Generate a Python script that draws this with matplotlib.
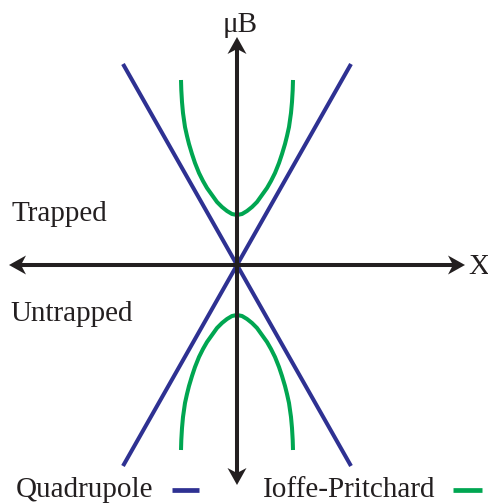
import numpy as np
import matplotlib
matplotlib.use("Agg")
import matplotlib.pyplot as plt
from matplotlib.patches import Polygon

# Potential energy (arbitrary units) against position X, origin at the trap centre
quad_x = [-114, 0, 114]
quad_b = [201, 0, 201]

# Ioffe-Pritchard curve, one half (|x|, |muB|); mirrored for the full shape
ip_dx = [0, 5, 10, 15, 20, 25, 30, 34, 38, 42, 45, 48, 50, 52, 54, 55, 55.7, 56]
ip_b = [50, 51, 54, 58, 63, 70, 77, 84, 92, 102, 111, 121, 129, 138, 152, 163, 175, 185]

BLUE = "#2E3192"
GREEN = "#00A651"
BLACK = "#231F20"
FONT = "Liberation Serif"
FS = 21

fig = plt.figure(figsize=(4.88, 5.04), dpi=100)
ax = fig.add_axes([0, 0, 1, 1])
ax.set_xlim(-237, 251)
ax.set_ylim(-239, 265)
ax.axis("off")

lw = 2.9

# Axes with barbed arrowheads
def arrowhead(tip, direction, length=17, width=19, notch=5):
    d = np.asarray(direction, float)
    d /= np.linalg.norm(d)
    n = np.array([-d[1], d[0]])
    tip = np.asarray(tip, float)
    back = tip - d * length
    pts = [tip, back + n * width / 2, tip - d * (length - notch), back - n * width / 2]
    ax.add_patch(Polygon(pts, closed=True, facecolor=BLACK, edgecolor="none", zorder=5))

ax.plot([-222, 222], [0, 0], color=BLACK, lw=lw, solid_capstyle="butt", zorder=4)
arrowhead((-228, 0), (-1, 0))
arrowhead((228, 0), (1, 0))
ax.plot([0, 0], [-214, 222], color=BLACK, lw=lw, solid_capstyle="butt", zorder=4)
arrowhead((0, 228), (0, 1))
arrowhead((0, -220), (0, -1))

# Quadrupole: linear |B|
qx = np.array(quad_x)
qb = np.array(quad_b)
ax.plot(qx, qb, color=BLUE, lw=lw, solid_capstyle="butt", zorder=3)
ax.plot(qx, -qb, color=BLUE, lw=lw, solid_capstyle="butt", zorder=3)

# Ioffe-Pritchard: non-zero minimum
dx = np.array(ip_dx)
bb = np.array(ip_b)
gx = np.concatenate([-dx[::-1], dx[1:]])
gb = np.concatenate([bb[::-1], bb[1:]])
for sign in (1, -1):
    ax.plot(gx, sign * gb, color=GREEN, lw=lw, solid_capstyle="butt",
            solid_joinstyle="round", zorder=3)

# Labels
tk = dict(family=FONT, fontsize=FS, color=BLACK, va="baseline")
ax.text(3, 233, "\u03bcB", ha="center", **tk)
ax.text(231, -9, "X", ha="left", **tk)
ax.text(-226, 44, "Trapped", ha="left", **tk)
ax.text(-227, -56, "Untrapped", ha="left", **tk)

# Legend
ax.text(-221, -232, "Quadrupole", ha="left", **tk)
ax.plot([-65, -38], [-225, -225], color=BLUE, lw=3.4, solid_capstyle="butt")
ax.text(26, -232, "Ioffe-Pritchard", ha="left", **tk)
ax.plot([216, 245], [-225, -225], color=GREEN, lw=3.4, solid_capstyle="butt")

fig.savefig("out.png", dpi=100)
